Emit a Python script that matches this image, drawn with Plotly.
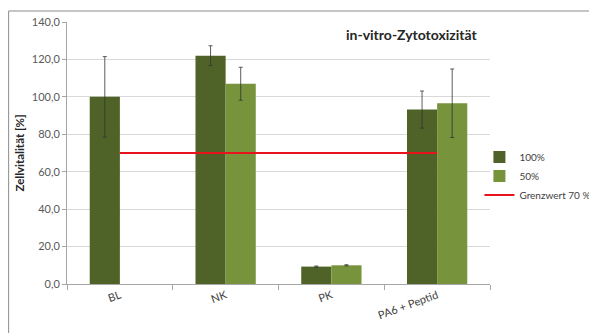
import plotly.graph_objects as go

categories = ["BL", "NK", "PK", "PA6 + Peptid"]
vals_100 = [100.0, 122.0, 9.3, 93.2]
err_100 = [21.5, 5.3, 0.3, 9.9]
vals_50 = [None, 107.0, 10.0, 96.6]
err_50 = [0, 8.8, 0.3, 18.3]
threshold = [70, 70, 70, 70]
y_ticks = [0, 20, 40, 60, 80, 100, 120, 140]

fig = go.Figure()
fig.add_trace(go.Bar(
    x=categories, y=vals_100, name="100%",
    marker=dict(color="#4F6228", line=dict(width=0)),
    error_y=dict(type="data", array=err_100, visible=True, color="#333333", thickness=0.8, width=2),
))
fig.add_trace(go.Bar(
    x=categories, y=vals_50, name="50%",
    marker=dict(color="#77933C", line=dict(width=0)),
    error_y=dict(type="data", array=err_50, visible=True, color="#333333", thickness=0.8, width=2),
))
fig.add_trace(go.Scatter(
    x=categories, y=threshold, name="Grenzwert 70 %", mode="lines",
    line=dict(color="#E8141B", width=2),
))

fig.update_layout(
    width=597, height=333,
    margin=dict(l=59, r=115, t=14, b=57, autoexpand=False),
    paper_bgcolor="white", plot_bgcolor="white",
    separators=",.",
    barmode="group", bargap=0.43, bargroupgap=0,
    font=dict(family="Lato, Liberation Sans, sans-serif", size=11, color="#404040"),
    showlegend=True,
    legend=dict(x=0.975, y=0.54, xanchor="left", yanchor="top",
                font=dict(size=10, color="#404040"), itemwidth=30,
                tracegroupgap=0, bgcolor="rgba(0,0,0,0)"),
    xaxis=dict(
        type="category", showline=True, linecolor="#A6A6A6", linewidth=1,
        ticks="outside", tickson="boundaries", ticklen=5, tickcolor="#A6A6A6",
        tickangle=-20, tickfont=dict(size=11, color="#404040"), showgrid=False,
    ),
    yaxis=dict(
        range=[0, 140], tickvals=y_ticks, tickformat=".1f",
        showgrid=True, gridcolor="#D9D9D9", gridwidth=1,
        showline=True, linecolor="#A6A6A6", linewidth=1,
        ticks="outside", ticklen=4, tickcolor="#A6A6A6",
        tickfont=dict(size=11, color="#595959"), zeroline=False,
        title=dict(text="<b>Zellvitalität [%]</b>", font=dict(size=11.5, color="#262626"), standoff=4),
    ),
    annotations=[dict(
        text="<b>in-vitro-Zytotoxizität</b>", xref="paper", yref="paper",
        x=0.976, y=0.951, xanchor="right", yanchor="middle", showarrow=False,
        font=dict(size=14, color="#262626", family="Lato, Liberation Sans, sans-serif"),
    )],
    shapes=[dict(
        type="rect", xref="paper", yref="paper",
        x0=-0.138, x1=1.5, y0=-0.5, y1=1.042,
        line=dict(color="#8C8C8C", width=1), fillcolor="rgba(0,0,0,0)", layer="below",
    )],
)

fig.write_html("out.html")
